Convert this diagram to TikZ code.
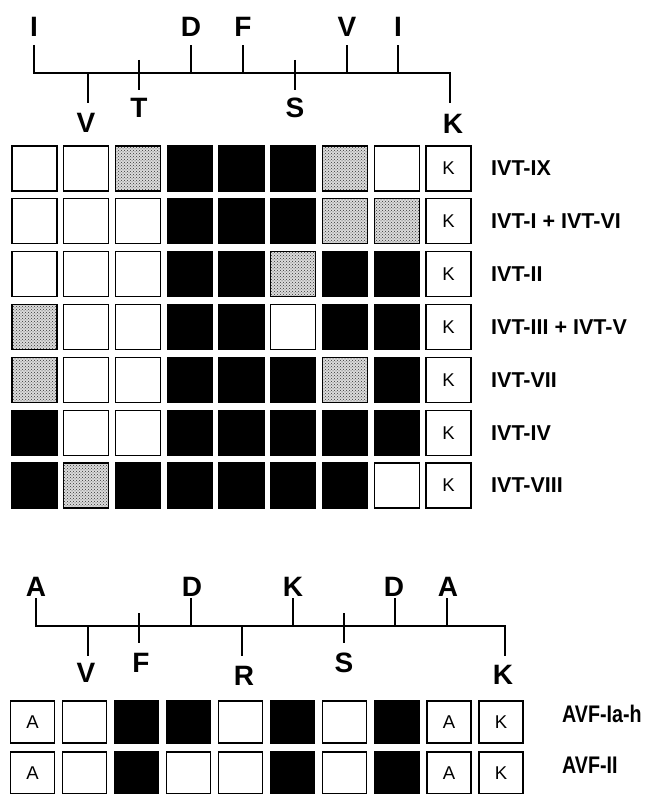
\documentclass[tikz,border=0pt]{standalone}
\usepackage{fontspec}
\setmainfont{Liberation Sans}
\usepackage{graphicx}
\usepackage{tikz}
\usetikzlibrary{patterns}
\tikzset{
  cell/.style={rectangle, draw=black, line width=1.3pt, minimum width=45pt,
    minimum height=45pt, inner sep=0pt, font=\fontsize{18.5}{19}\selectfont},
  celle/.style={cell, fill=white},
  cellf/.style={cell, fill=black},
  celld/.style={cell, preaction={fill=black!14}, pattern=crosshatch dots,
    pattern color=black!80},
  lowcell/.style={minimum width=44pt, minimum height=42pt},
  treelabel/.style={inner sep=0pt, font=\fontsize{28}{28}\selectfont\bfseries},
  rowlabel/.style={inner sep=0pt, anchor=west, font=\fontsize{21.5}{22}\selectfont\bfseries},
  treeline/.style={line width=2.6pt},
  branch/.style={line width=2.2pt},
}

\begin{document}
\begin{tikzpicture}[x=1pt, y=-1pt]
  \useasboundingbox (0,0) rectangle (645,794);
  \clip (0,0) rectangle (645,794);
  % IVT tree
  \draw[treeline] (34,45) -- (34,73) -- (450,73) -- (450,103);
  \foreach \x in {191,243,347,398} \draw[branch] (\x,73) -- (\x,45);
  \draw[branch] (88,73) -- (88,103);
  \foreach \x in {139,295} \draw[branch] (\x,60) -- (\x,90);
  \foreach \x/\lbl [count=\i] in {34/I,191/D,243/F,347/V,398/I}
    \node[treelabel] (ivtup\i) at (\x,27) {\lbl};
  \node[treelabel] (ivtv) at (86,123) {V};
  \node[treelabel] (ivtt) at (139,108) {T};
  \node[treelabel] (ivts) at (295,108) {S};
  \node[treelabel] (ivtk) at (453,124) {K};
  % IVT grid
  \foreach \r/\name/\row in {1/{IVT-IX}/{e,e,d,f,f,f,d,e},
      2/{IVT-I + IVT-VI}/{e,e,e,f,f,f,d,d}, 3/{IVT-II}/{e,e,e,f,f,d,f,f},
      4/{IVT-III + IVT-V}/{d,e,e,f,f,e,f,f}, 5/{IVT-VII}/{d,e,e,f,f,f,d,f},
      6/{IVT-IV}/{f,e,e,f,f,f,f,f}, 7/{IVT-VIII}/{f,d,f,f,f,f,f,e}} {
    \foreach \c [count=\i] in \row
      \node[cell\c] (ivt\r-\i) at ({34.5+51.75*(\i-1)}, {168.5+52.83*(\r-1)}) {};
    \node[celle] (ivt\r-9) at (448.5, {168.5+52.83*(\r-1)}) {K};
    \node[rowlabel] (ivt\r) at (491, {168.5+52.83*(\r-1)}) {\name};
  }
  % AVF tree
  \draw[treeline] (36,598) -- (36,626) -- (505,626) -- (505,656);
  \foreach \x in {191,293,395,447} \draw[branch] (\x,626) -- (\x,598);
  \foreach \x in {88,242} \draw[branch] (\x,626) -- (\x,656);
  \foreach \x in {139,344} \draw[branch] (\x,613) -- (\x,643);
  \foreach \x/\lbl [count=\i] in {36/A,192/D,293/K,394/D,448/A}
    \node[treelabel] (avfup\i) at (\x,587) {\lbl};
  \node[treelabel] (avfv) at (86,673) {V};
  \node[treelabel] (avff) at (141,663) {F};
  \node[treelabel] (avfr) at (244,676) {R};
  \node[treelabel] (avfs) at (344,663) {S};
  \node[treelabel] (avfk) at (503,675) {K};
  % AVF grid
  \foreach \r/\name/\row in {1/{AVF-Ia-h}/{e,f,f,e,f,e,f},
      2/{AVF-II}/{e,f,e,e,f,e,f}} {
    \node[celle, lowcell] (avf\r-1) at (32.5, {722+51*(\r-1)}) {A};
    \foreach \c [count=\i from 2] in \row
      \node[cell\c, lowcell] (avf\r-\i) at ({32.5+52.05*(\i-1)}, {722+51*(\r-1)}) {};
    \node[celle, lowcell] (avf\r-9) at (449, {722+51*(\r-1)}) {A};
    \node[celle, lowcell] (avf\r-10) at (501, {722+51*(\r-1)}) {K};
    \node[rowlabel] (avf\r) at (562, {714+51*(\r-1)}) {\scalebox{0.82}[1]{\fontsize{24}{24}\selectfont\name}};
  }
\end{tikzpicture}
\end{document}
